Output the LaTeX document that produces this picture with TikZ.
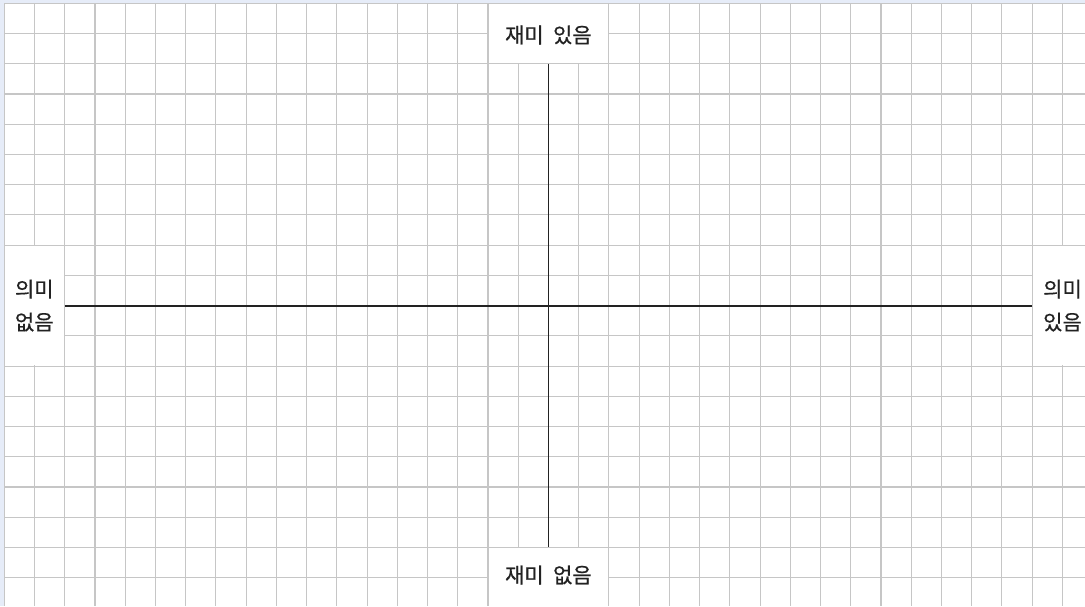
\documentclass[tikz,border=0pt]{standalone}
\usepackage{fontspec}
\newfontfamily\kr[FakeBold=0.5]{Noto Sans CJK KR}
\definecolor{edgeblue}{HTML}{E6ECF8}
\definecolor{gridgray}{HTML}{C6C6C6}
\definecolor{axisdark}{HTML}{222222}
\tikzset{
  gridline/.style={draw=gridgray, line width=1.1pt},
  axisline/.style={draw=axisdark, line width=1.8pt},
  labelbox/.style={fill=white, draw=none},
  axislabel/.style={font=\kr\fontsize{21}{33}\selectfont, text=axisdark, inner sep=0pt, align=center}
}
\begin{document}
\begin{tikzpicture}[x=1pt,y=-1pt]
\useasboundingbox (0,0) rectangle (1085,606);
\fill[edgeblue] (0,0) rectangle (1085,606);
\fill[white] (4.3,3.3) rectangle (1085,606);
% grid
\foreach \i in {0,...,35} {
  \draw[gridline] ({4.3+30.23*\i},3.3) -- ({4.3+30.23*\i},606);
}
\foreach \j in {0,...,19} {
  \draw[gridline] (4.3,{3.3+30.23*\j}) -- (1085,{3.3+30.23*\j});
}
% white label boxes
\fill[labelbox] ({4.3+30.23*16+0.6},3.9) rectangle ({4.3+30.23*20-0.6},{3.3+30.23*2-0.6});
\fill[labelbox] ({4.3+30.23*16+0.6},{3.3+30.23*18+0.6}) rectangle ({4.3+30.23*20-0.6},606);
\fill[labelbox] (4.9,{3.3+30.23*8+0.6}) rectangle ({4.3+30.23*2-0.6},{3.3+30.23*12-0.6});
\fill[labelbox] ({4.3+30.23*34+0.6},{3.3+30.23*8+0.6}) rectangle (1085,{3.3+30.23*12-0.6});
% axes
\coordinate (xl) at ({4.3+30.23*2},{3.3+30.23*10});
\coordinate (xr) at ({4.3+30.23*34},{3.3+30.23*10});
\coordinate (yt) at ({4.3+30.23*18},{3.3+30.23*2});
\coordinate (yb) at ({4.3+30.23*18},{3.3+30.23*18});
\draw[axisline] (xl) -- (xr);
\draw[axisline] (yt) -- (yb);
% labels
\node[axislabel] (top) at (548.4,35) {재미\hspace{0.45em}있음};
\node[axislabel] (bottom) at (548.4,575) {재미\hspace{0.45em}없음};
\node[axislabel] (left) at (34.3,305.6) {의미\\없음};
\node[axislabel] (right) at (1062.5,305.6) {의미\\있음};
\end{tikzpicture}
\end{document}
